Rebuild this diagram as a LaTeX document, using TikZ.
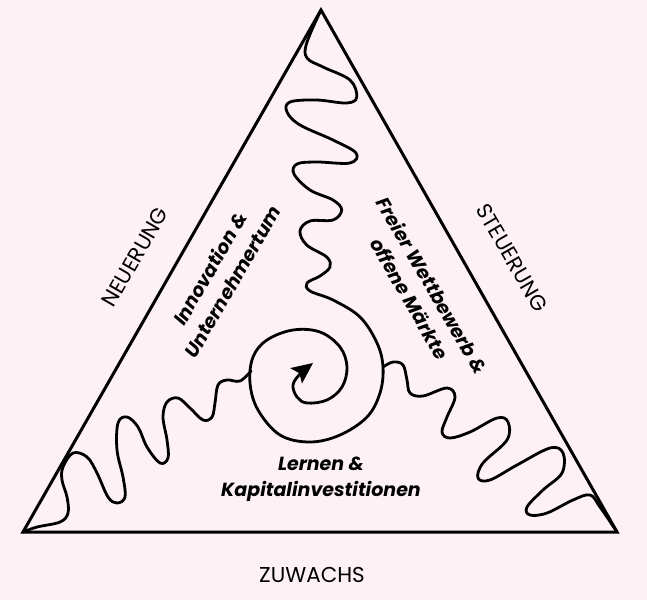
\documentclass[tikz,border=0pt]{standalone}
\usepackage{fontspec}
\setmainfont{Poppins}
\newfontfamily\outerfont{Poppins}
\usepackage{tikz}
\usetikzlibrary{arrows.meta}
\definecolor{rosa}{RGB}{253,241,245}

\begin{document}
\begin{tikzpicture}[x=1pt, y=-1pt,
		edge/.style={line width=3pt, line join=miter},
		wave/.style={line width=2.8pt, line cap=round, line join=round},
		outer/.style={font=\outerfont\fontsize{21.5}{26}\selectfont},
		inner/.style={font=\bfseries\itshape\fontsize{19}{26}\selectfont, align=center}]
		\fill[rosa] (0,0) rectangle (647,600);
		\useasboundingbox (0,0) rectangle (647,600);
		% Dreieck
		\coordinate (top) at (321,10);
		\coordinate (left) at (23,532);
		\coordinate (right) at (617,532);
		\draw[edge] (top) -- (left) -- (right) -- cycle;
		% Welle von oben mit Spirale
		\draw[wave, -{Stealth[length=21pt, width=19pt, inset=4pt]}] plot[smooth, tension=0.6] coordinates {
			(321,10) (306.7,43) (307,58) (323,67) (350,80) (356.7,97) (346.7,103) (316.7,100)
			(290,102) (287,112) (300,125) (333,140) (356,153) (350,163) (316.7,162) (297,164)
			(294,174) (310,190) (333,200) (341.7,210) (333,220) (310,221) (300,231) (306.7,245)
			(326.7,257) (330,267) (320,276) (307,283) (310,291) (333,300) (360,317) (377,343)
			(383,367) (380,393) (367,417) (340,435) (310,442) (280,435) (258,410) (250,383)
			(253,357) (267,340) (293,330) (320,332) (340,347) (347,367) (342,387) (327,400)
			(307,403) (297,397) (293,385) (300,374) (313,363)};
		% Welle von links
		\draw[wave] plot[smooth, tension=0.6] coordinates {
			(left) (37,527) (60,522) (68,513) (67,497) (62,480) (63,467) (73,453) (87,457)
			(97,473) (108,497) (117,503) (125,497) (123,477) (117,450) (118,423) (127,417)
			(138,427) (147,447) (160,463) (168,458) (167,440) (163,417) (167,402) (178,398)
			(190,408) (203,420) (212,417) (215,403) (218,385) (227,380) (240,381) (251,371)};
		% Welle von rechts
		\draw[wave] plot[smooth, tension=0.6] coordinates {
			(383,367) (393,362) (403,365) (407,380) (410,393) (423,396) (447,388) (455,397)
			(447,417) (442,432) (450,438) (470,432) (497,418) (508,422) (507,440) (483,463)
			(478,478) (490,480) (517,465) (550,448) (563,453) (562,473) (543,490) (527,507)
			(530,515) (547,513) (573,500) (590,495) (600,507) (right)};
		% Beschriftung
		\node[outer, rotate=60] (neu) at (135,257) {NEUERUNG};
		\node[outer, rotate=-60] (steu) at (512,258) {STEUERUNG};
		\node[outer, anchor=base] (zuw) at (312,582) {ZUWACHS};
		\node[inner, rotate=60] (inno) at (221,275) {Innovation \&\\Unternehmertum};
		\node[inner, rotate=-60] (markt) at (421,292) {Freier Wettbewerb \&\\offene Märkte};
		\node[inner, anchor=base] (lern) at (321,496) {Lernen \&\\Kapitalinvestitionen};
	\end{tikzpicture}
\end{document}
